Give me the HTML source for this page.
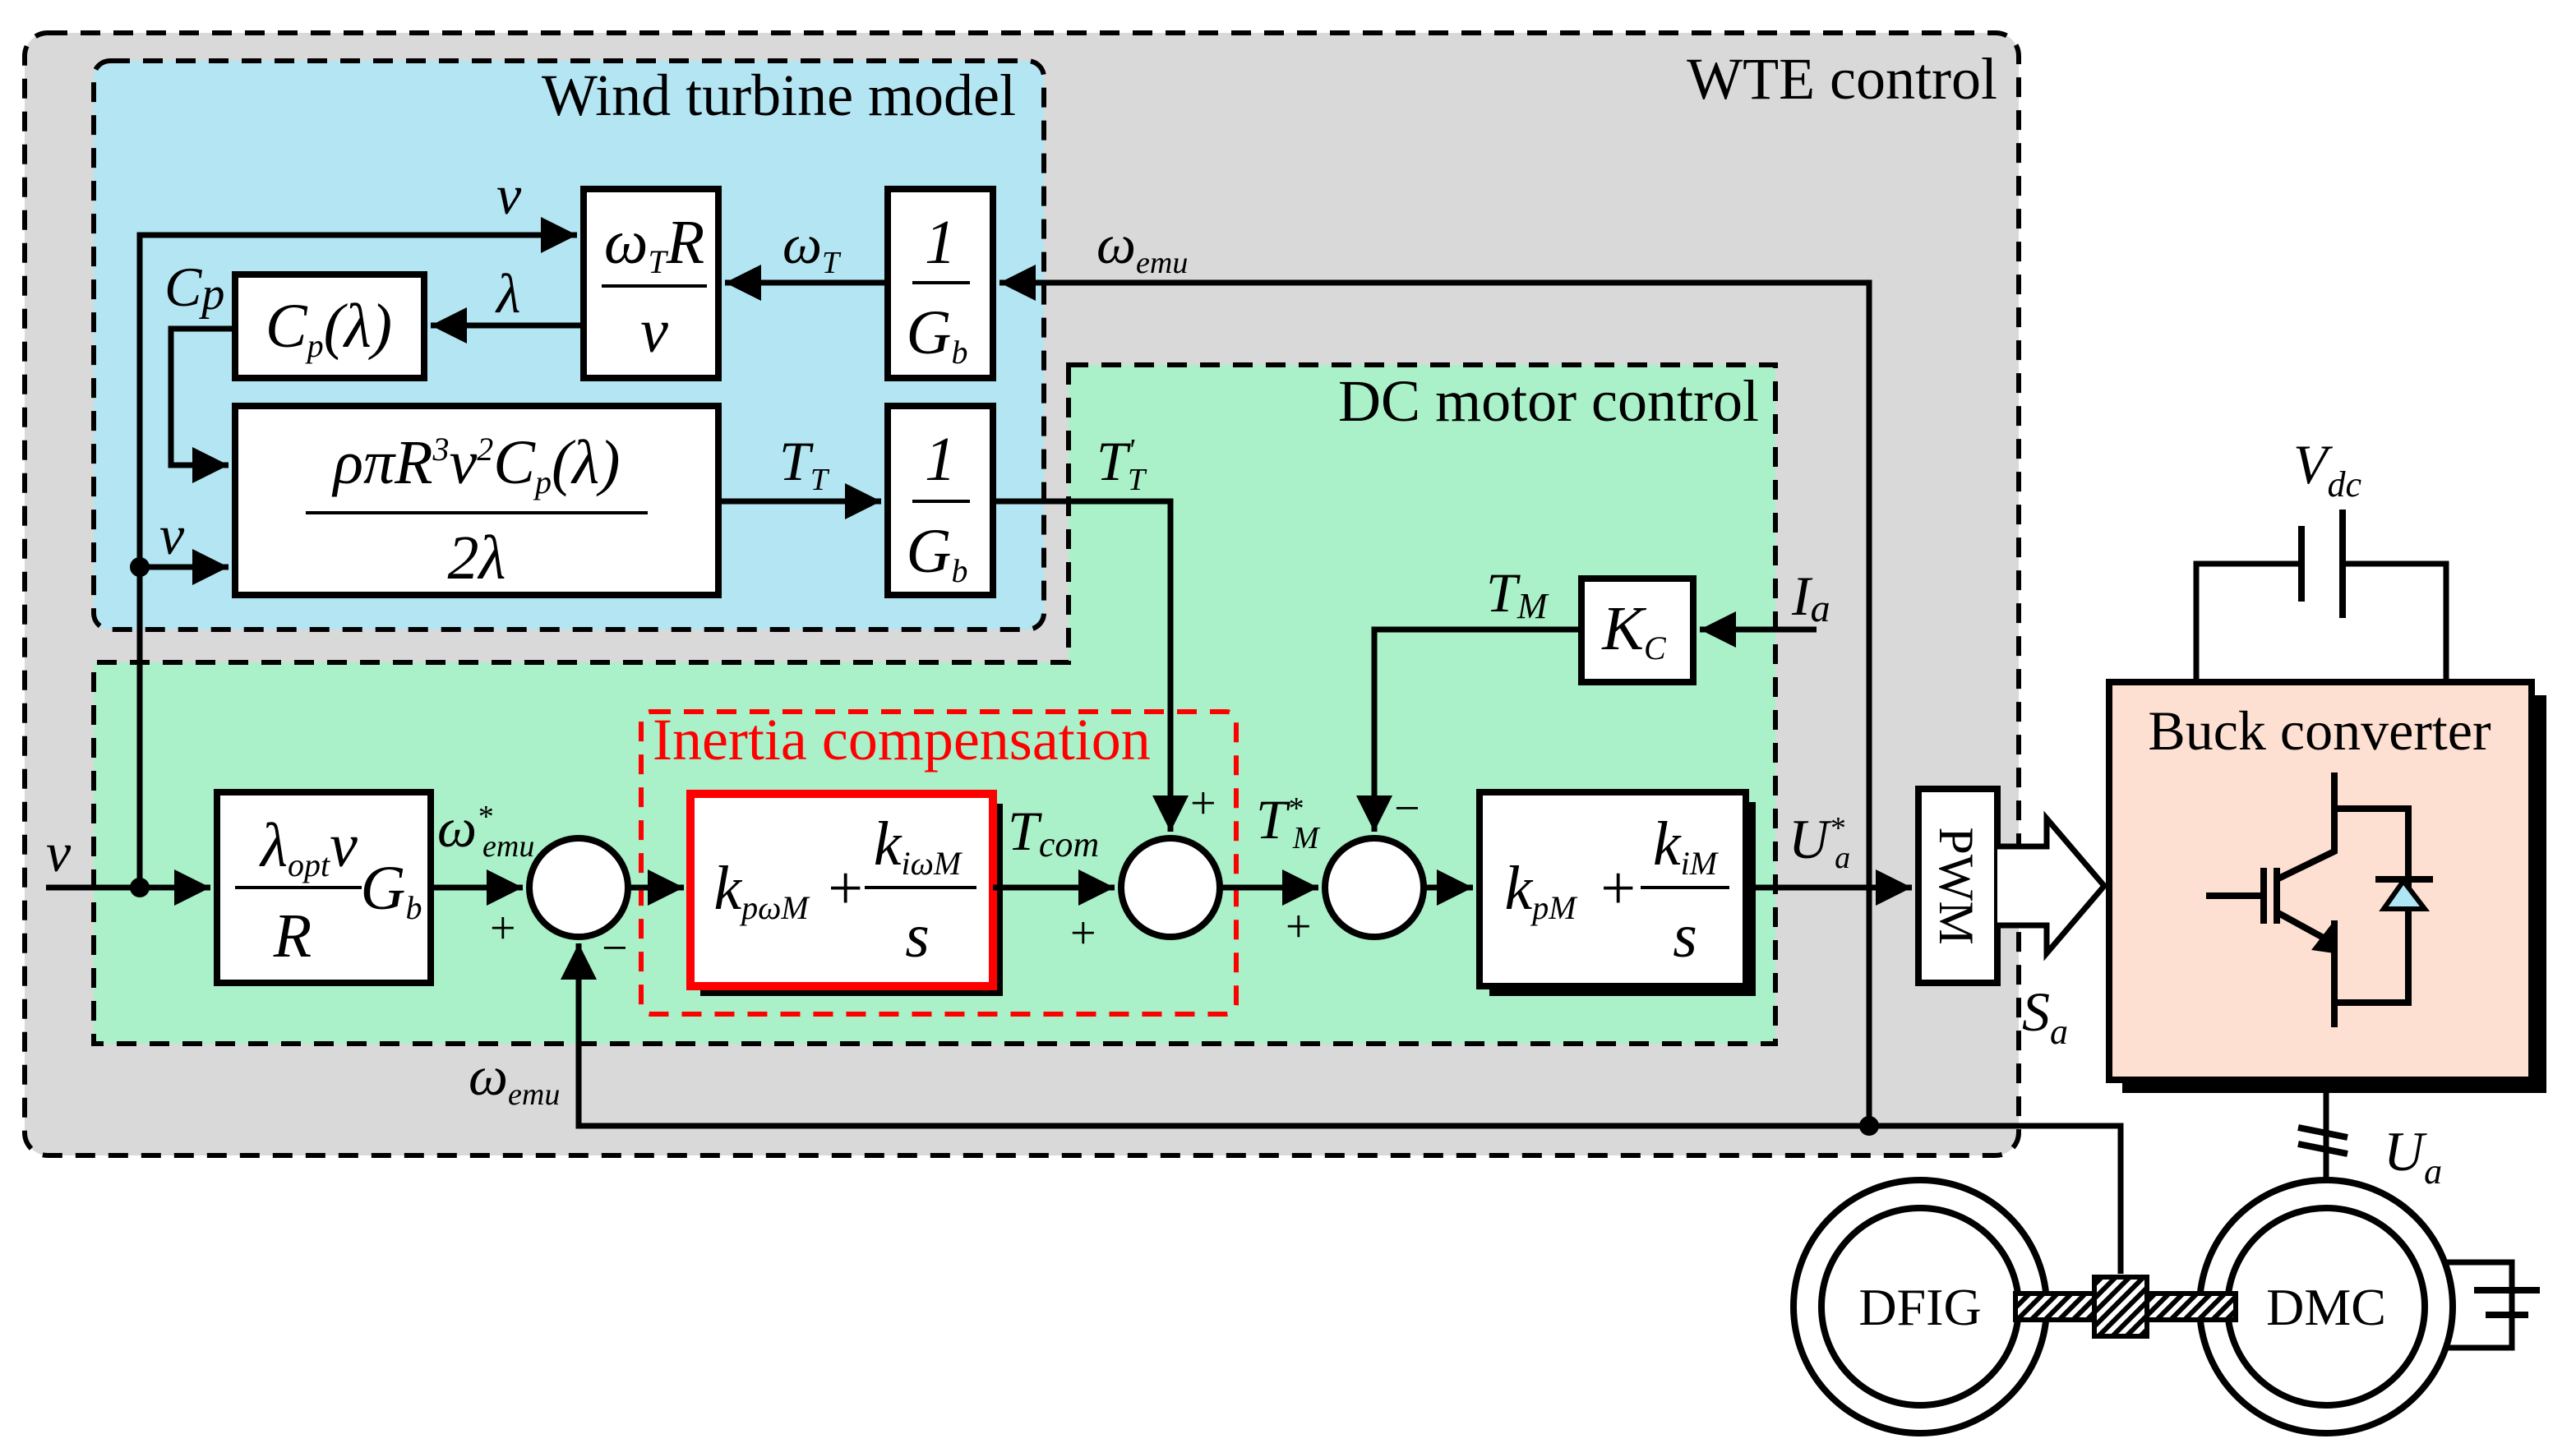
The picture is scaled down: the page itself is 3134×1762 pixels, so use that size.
<!DOCTYPE html>
<html><head><meta charset="utf-8"><style>
html,body{margin:0;padding:0;background:#fff}
svg{display:block}
text{font-family:"Liberation Serif",serif;fill:#000}
.i{font-style:italic}
</style></head><body>
<svg width="3134" height="1762" viewBox="0 0 1567 881" xmlns="http://www.w3.org/2000/svg">
<defs>
<marker id="A" markerWidth="22" markerHeight="22" refX="22" refY="11" orient="auto" markerUnits="userSpaceOnUse" viewBox="0 0 22 22"><path d="M0,0L22,11L0,22z" fill="#000"/></marker>
<pattern id="h" width="6" height="6" patternUnits="userSpaceOnUse" patternTransform="rotate(45)"><rect width="6" height="6" fill="#fff"/><rect width="3" height="6" fill="#000"/></pattern>
</defs>
<rect x="15" y="20" width="1213" height="683" rx="14" fill="#d9d9d9" stroke="#000" stroke-width="3" stroke-dasharray="12,8"/>
<text x="1215" y="60" font-size="36" text-anchor="end">WTE control</text>
<rect x="57" y="37" width="578" height="346" rx="10" fill="#b3e5f3" stroke="#000" stroke-width="3" stroke-dasharray="12,8"/>
<text x="618" y="70" font-size="36" text-anchor="end">Wind turbine model</text>
<path d="M650,222H1080V635H57V403H650Z" fill="#aaf0c8" stroke="#000" stroke-width="3" stroke-dasharray="12,8"/>
<text x="1070" y="256" font-size="36" text-anchor="end">DC motor control</text>
<rect x="390" y="433" width="362" height="184" rx="6" fill="none" stroke="#f00" stroke-width="3" stroke-dasharray="12,8"/>
<text x="397" y="462" font-size="36" style="fill:#f00">Inertia compensation</text>

<g stroke="#000" stroke-width="4" fill="#fff">
<rect x="355" y="115" width="82" height="115"/>
<rect x="540" y="115" width="64" height="115"/>
<rect x="143" y="167" width="115" height="63"/>
<rect x="143" y="247" width="294" height="115"/>
<rect x="540" y="247" width="64" height="115"/>
<rect x="132" y="482" width="130" height="116"/>
<rect x="962" y="352" width="68" height="63"/>
<rect x="1167" y="480" width="48" height="118"/>
</g>
<rect x="426" y="489" width="184" height="117" fill="#000"/>
<rect x="420" y="483" width="184" height="117" fill="#fff" stroke="#f00" stroke-width="5"/>
<rect x="906" y="488" width="162" height="118" fill="#000"/>
<rect x="900" y="482" width="162" height="118" fill="#fff" stroke="#000" stroke-width="4"/>
<rect x="1291" y="423" width="258" height="242" fill="#000"/>
<rect x="1283" y="415" width="257" height="242" fill="#fde0d2" stroke="#000" stroke-width="4"/>
<text x="1411" y="456" font-size="34" text-anchor="middle">Buck converter</text>
<g stroke="#000" stroke-width="4" fill="#fff">
<circle cx="352" cy="540" r="30"/><circle cx="712" cy="540" r="30"/><circle cx="836" cy="540" r="30"/>
</g>
<g stroke="#000" stroke-width="3.5" fill="none">
<path d="M28,540H128" marker-end="url(#A)"/>
<path d="M85,540V143H351" marker-end="url(#A)"/>
<path d="M85,345H139" marker-end="url(#A)"/>
<path d="M355,198H262" marker-end="url(#A)"/>
<path d="M540,172H441" marker-end="url(#A)"/>
<path d="M143,200H104V283H139" marker-end="url(#A)"/>
<path d="M437,305H536" marker-end="url(#A)"/>
<path d="M604,305H712V506" marker-end="url(#A)"/>
<path d="M1137,685V172H608" marker-end="url(#A)"/>
<path d="M262,540H318" marker-end="url(#A)"/>
<path d="M382,540H416" marker-end="url(#A)"/>
<path d="M604,540H678" marker-end="url(#A)"/>
<path d="M742,540H802" marker-end="url(#A)"/>
<path d="M866,540H896" marker-end="url(#A)"/>
<path d="M1062,540H1163" marker-end="url(#A)"/>
<path d="M1290,775V685H352V574" marker-end="url(#A)"/>
<path d="M1105,383H1034" marker-end="url(#A)"/>
<path d="M962,383H836V506" marker-end="url(#A)"/>
<path d="M1336,415V343H1400M1425,343H1488V415"/>
<path d="M1415,657V720"/>
<path d="M1488,768H1528V820H1488"/>
</g>
<g fill="#000"><circle cx="85" cy="540" r="6"/><circle cx="85" cy="345" r="6"/><circle cx="1137" cy="685" r="6"/></g>
<g stroke="#000" stroke-width="4">
<line x1="1400" y1="320" x2="1400" y2="366"/><line x1="1425" y1="310" x2="1425" y2="376"/>
<line x1="1398" y1="686" x2="1428" y2="692"/><line x1="1398" y1="696" x2="1428" y2="702"/>
<line x1="1505" y1="785" x2="1545" y2="785"/><line x1="1512" y1="800" x2="1538" y2="800"/>
</g>
<path d="M1215,515H1245V498L1280,539L1245,580V563H1215" fill="#fff" stroke="#000" stroke-width="3.5"/>
<text transform="translate(1180,539) rotate(90)" font-size="30" text-anchor="middle">PWM</text>
<g stroke="#000" stroke-width="4" fill="none">
<path d="M1342,545H1377M1377,528V562M1385,528V562M1385,535L1420,518V470M1420,492H1465V610H1420M1385,555L1416,572M1420,560V625"/>
<path d="M1445,535H1480"/>
</g>
<path d="M1406,578L1420,560L1420,580Z" fill="#000"/>
<path d="M1462,536L1450,553H1475Z" fill="#aee6f5" stroke="#000" stroke-width="3"/>
<g stroke="#000" stroke-width="4" fill="#fff">
<circle cx="1168" cy="795" r="77"/><circle cx="1168" cy="795" r="60"/>
<circle cx="1415" cy="795" r="77"/><circle cx="1415" cy="795" r="60"/>
</g>
<rect x="1226" y="787" width="134" height="16" fill="url(#h)" stroke="#000" stroke-width="3"/>
<rect x="1274" y="777" width="32" height="36" fill="url(#h)" stroke="#000" stroke-width="3"/>
<text x="1168" y="806" font-size="32" text-anchor="middle">DFIG</text>
<text x="1415" y="806" font-size="32" text-anchor="middle">DMC</text>
<g font-size="38" text-anchor="middle" class="i">
<text x="398" y="160" class="i">ω<tspan font-size="20" dy="6">T</tspan><tspan dy="-6">R</tspan></text>
<line x1="366" y1="174" x2="430" y2="174" stroke="#000" stroke-width="2"/>
<text x="398" y="214" class="i">v</text>
<text x="572" y="160">1</text>
<line x1="555" y1="172" x2="590" y2="172" stroke="#000" stroke-width="2"/>
<text x="570" y="215" class="i">G<tspan font-size="20" dy="6">b</tspan></text>
<text x="572" y="292">1</text>
<line x1="555" y1="305" x2="590" y2="305" stroke="#000" stroke-width="2"/>
<text x="570" y="348" class="i">G<tspan font-size="20" dy="6">b</tspan></text>
<text x="200" y="211" class="i">C<tspan font-size="20" dy="6">p</tspan><tspan dy="-6">(λ)</tspan></text>
<text x="290" y="294" class="i">ρπR<tspan font-size="20" dy="-14">3</tspan><tspan dy="14">v</tspan><tspan font-size="20" dy="-14">2</tspan><tspan dy="14">C</tspan><tspan font-size="20" dy="6">p</tspan><tspan dy="-6">(λ)</tspan></text>
<line x1="186" y1="312" x2="394" y2="312" stroke="#000" stroke-width="2"/>
<text x="290" y="352" class="i">2λ</text>
<text x="188" y="527" class="i">λ<tspan font-size="20" dy="6">opt</tspan><tspan dy="-6">v</tspan></text>
<line x1="143" y1="540" x2="220" y2="540" stroke="#000" stroke-width="2"/>
<text x="178" y="582" class="i">R</text>
<text x="238" y="553" class="i">G<tspan font-size="20" dy="6">b</tspan></text>
<text x="994" y="395" class="i">K<tspan font-size="20" dy="6">C</tspan></text>
<text x="463" y="553" class="i">k<tspan font-size="20" dy="6">pωM</tspan></text>
<text x="514" y="553">+</text>
<text x="558" y="526" class="i">k<tspan font-size="20" dy="6">iωM</tspan></text>
<line x1="526" y1="540" x2="594" y2="540" stroke="#000" stroke-width="2"/>
<text x="558" y="582" class="i">s</text>
<text x="937" y="553" class="i">k<tspan font-size="20" dy="6">pM</tspan></text>
<text x="984" y="553">+</text>
<text x="1025" y="526" class="i">k<tspan font-size="20" dy="6">iM</tspan></text>
<line x1="998" y1="540" x2="1052" y2="540" stroke="#000" stroke-width="2"/>
<text x="1025" y="582" class="i">s</text>
</g>
<g font-size="34" class="i">
<text x="302" y="130" class="i">v</text>
<text x="302" y="190" class="i">λ</text>
<text x="476" y="160" class="i">ω<tspan font-size="19" dy="6">T</tspan></text>
<text x="667" y="160" class="i">ω<tspan font-size="19" dy="6">emu</tspan></text>
<text x="100" y="186" class="i">C<tspan font-size="28" dy="2">p</tspan></text>
<text x="97" y="337" class="i">v</text>
<text x="474" y="292" class="i">T<tspan font-size="19" dy="6">T</tspan></text>
<text x="667" y="292" class="i">T<tspan font-size="19" dy="-12">'</tspan><tspan font-size="19" dy="18" dx="-4">T</tspan></text>
<text x="28" y="530" class="i">v</text>
<text x="266" y="515" class="i">ω<tspan font-size="19" dy="-12">*</tspan><tspan font-size="19" dy="18" dx="-6">emu</tspan></text>
<text x="613" y="517" class="i">T<tspan font-size="22" dy="4">com</tspan></text>
<text x="764" y="510" class="i">T<tspan font-size="19" dy="-12">*</tspan><tspan font-size="19" dy="18" dx="-6">M</tspan></text>
<text x="904" y="372" class="i">T<tspan font-size="22" dy="4">M</tspan></text>
<text x="1090" y="374" class="i">I<tspan font-size="24" dy="4">a</tspan></text>
<text x="1088" y="522" class="i">U<tspan font-size="19" dy="-12">*</tspan><tspan font-size="19" dy="18" dx="-6">a</tspan></text>
<text x="1230" y="627" class="i">S<tspan font-size="22" dy="8">a</tspan></text>
<text x="1395" y="294" class="i">V<tspan font-size="22" dy="8">dc</tspan></text>
<text x="1450" y="712" class="i">U<tspan font-size="22" dy="8">a</tspan></text>
<text x="285" y="666" class="i">ω<tspan font-size="19" dy="6">emu</tspan></text>
</g>
<g font-size="28">
<text x="298" y="574">+</text><text x="366" y="586">−</text>
<text x="724" y="498">+</text><text x="651" y="577">+</text>
<text x="848" y="501">−</text><text x="782" y="573">+</text>
</g>
</svg>
</body></html>
